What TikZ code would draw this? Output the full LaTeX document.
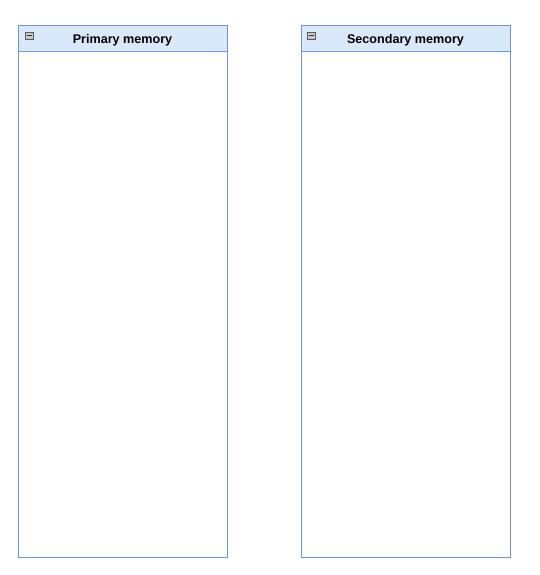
\documentclass[tikz,border=0pt]{standalone}
\usepackage{fontspec}
\setmainfont{Liberation Sans}
\definecolor{hdrfill}{HTML}{DAE8FC}
\definecolor{hdrline}{HTML}{7596CC}
\definecolor{iconfill}{HTML}{C8C8C8}
\tikzset{
  x=1pt, y=-1pt,
  boxbody/.style={draw=hdrline, fill=white, line width=0.8pt},
  boxhead/.style={draw=hdrline, fill=hdrfill, line width=0.8pt},
  title/.style={font=\bfseries\fontsize{12.6}{14}\selectfont, text=black},
  icon/.style={draw=gray!70!black, fill=iconfill, line width=0.5pt}
}
\begin{document}
\begin{tikzpicture}
\useasboundingbox (0,0) rectangle (539,575);
% Primary memory
\draw[boxbody] (18.5,25.5) rectangle (227.5,557);
\draw[boxhead] (18.5,25.5) rectangle (227.5,51);
\draw[icon] (25,32) rectangle (33,39);
\draw[gray!40!black, line width=0.8pt] (26.5,35.5) -- (31.5,35.5);
\node[title] (prim) at (122.5,40) {Primary memory};
% Secondary memory
\draw[boxbody] (301.5,25.5) rectangle (510.5,557);
\draw[boxhead] (301.5,25.5) rectangle (510.5,51);
\draw[icon] (307,32) rectangle (315,39);
\draw[gray!40!black, line width=0.8pt] (308.5,35.5) -- (313.5,35.5);
\node[title] (sec) at (405.5,40) {Secondary memory};
\end{tikzpicture}
\end{document}
